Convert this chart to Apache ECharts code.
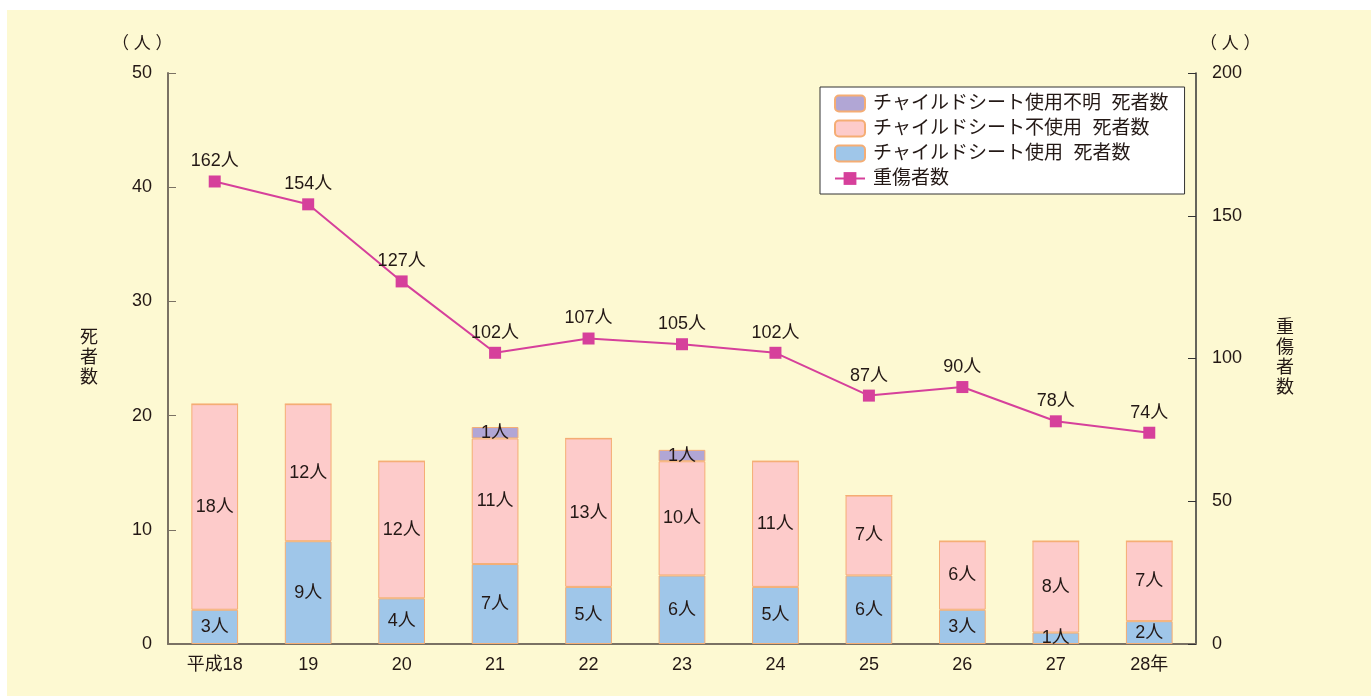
<!DOCTYPE html>
<html>
<head>
<meta charset="utf-8">
<script src="https://cdn.jsdelivr.net/npm/echarts@6/dist/echarts.min.js"></script>
<style>
  html, body { margin: 0; padding: 0; background: #ffffff; }
  #bg { position: absolute; left: 7px; top: 10px; width: 1364px; height: 686px; background: #fdf9d2; }
  #main { position: absolute; left: 0; top: 0; width: 1371px; height: 696px; }
</style>
</head>
<body>
<div id="bg"></div>
<div id="main"></div>
<script>
const categories = ['平成18', '19', '20', '21', '22', '23', '24', '25', '26', '27', '28年'];
const seatUsed = [3, 9, 4, 7, 5, 6, 5, 6, 3, 1, 2];
const seatNotUsed = [18, 12, 12, 11, 13, 10, 11, 7, 6, 8, 7];
const seatUnknown = [0, 0, 0, 1, 0, 1, 0, 0, 0, 0, 0];
const seriouslyInjured = [162, 154, 127, 102, 107, 105, 102, 87, 90, 78, 74];

const textColor = '#231815';
const fontFamily = '"Liberation Sans", "Noto Sans CJK JP", sans-serif';

const chart = echarts.init(document.getElementById('main'));

function barSeries(name, data, color) {
    return {
        name: name,
        type: 'bar',
        stack: 'deaths',
        barWidth: '50%',
        data: data,
        itemStyle: { color: color, borderColor: '#f5ad74', borderWidth: 1 },
        label: {
            show: true,
            position: 'inside',
            color: textColor,
            fontSize: 18,
            fontFamily: fontFamily,
            formatter: p => p.value > 0 ? p.value + '人' : ''
        }
    };
}

const option = {
    animation: false,
    textStyle: { fontFamily: fontFamily, color: textColor },
    grid: { left: 168, right: 175, top: 73, bottom: 52 },
    legend: {
        orient: 'vertical',
        left: 820,
        top: 87,
        padding: [7, 16, 6, 14],
        itemGap: 6,
        itemWidth: 30,
        itemHeight: 16,
        backgroundColor: '#ffffff',
        borderColor: '#333333',
        borderWidth: 1,
        textStyle: { fontSize: 19, color: textColor, fontFamily: fontFamily, padding: [0, 0, 0, 3] },
        data: [
            'チャイルドシート使用不明  死者数',
            'チャイルドシート不使用  死者数',
            'チャイルドシート使用  死者数',
            '重傷者数'
        ]
    },
    xAxis: {
        type: 'category',
        data: categories,
        axisLine: { lineStyle: { color: '#7a7264', width: 2 } },
        axisTick: { inside: true, length: 8, lineStyle: { color: '#333' } },
        axisLabel: { fontSize: 18, color: textColor, margin: 12 }
    },
    yAxis: [
        {
            type: 'value',
            min: 0,
            max: 50,
            interval: 10,
            name: '死\n者\n数',
            nameLocation: 'middle',
            nameRotate: 0,
            nameGap: 70,
            nameTextStyle: { fontSize: 18, color: textColor, lineHeight: 20 },
            axisLine: { show: true, lineStyle: { color: '#7a7264', width: 2 } },
            axisTick: { show: true, inside: true, length: 8, lineStyle: { color: '#7a7264' } },
            axisLabel: { fontSize: 18, color: textColor, margin: 16 },
            splitLine: { show: false }
        },
        {
            type: 'value',
            min: 0,
            max: 200,
            interval: 50,
            position: 'right',
            name: '重\n傷\n者\n数',
            nameLocation: 'middle',
            nameRotate: 0,
            nameGap: 80,
            nameTextStyle: { fontSize: 18, color: textColor, lineHeight: 20 },
            axisLine: { show: true, lineStyle: { color: '#333333', width: 1.5 } },
            axisTick: { show: true, inside: true, length: 8, lineStyle: { color: '#333' } },
            axisLabel: { fontSize: 18, color: textColor, margin: 16 },
            splitLine: { show: false }
        }
    ],
    graphic: [
        { type: 'text', left: 112, top: 36, style: { text: '（ 人 ）', font: '17px ' + fontFamily, fill: textColor } },
        { type: 'text', left: 1200, top: 36, style: { text: '（ 人 ）', font: '17px ' + fontFamily, fill: textColor } }
    ],
    series: [
        barSeries('チャイルドシート使用  死者数', seatUsed, '#9fc6e9'),
        barSeries('チャイルドシート不使用  死者数', seatNotUsed, '#fdcbca'),
        barSeries('チャイルドシート使用不明  死者数', seatUnknown, '#b1a6d5'),
        {
            name: '重傷者数',
            type: 'line',
            yAxisIndex: 1,
            data: seriouslyInjured,
            symbol: 'rect',
            symbolSize: 12,
            lineStyle: { color: '#d6409b', width: 2 },
            itemStyle: { color: '#d6409b' },
            label: {
                show: true,
                position: 'top',
                distance: 5,
                fontSize: 18,
                color: textColor,
                formatter: p => p.value + '人'
            },
            z: 10
        }
    ]
};

chart.setOption(option);
</script>
</body>
</html>
